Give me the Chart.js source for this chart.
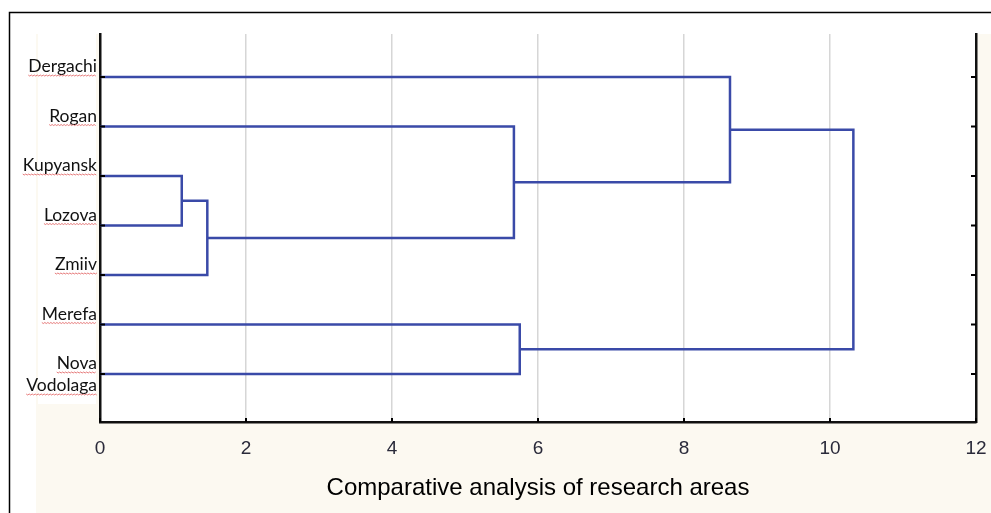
<!DOCTYPE html>
<html>
<head>
<meta charset="utf-8">
<script src="https://cdn.jsdelivr.net/npm/chart.js@4.4.1/dist/chart.umd.min.js"></script>
<style>
  html, body { margin: 0; padding: 0; background: #fff; }
  #wrap { width: 991px; height: 513px; position: relative; }
</style>
</head>
<body>
<div id="wrap"><canvas id="dendro"></canvas></div>
<script>
// leaves, top to bottom
var leaves = ['Dergachi', 'Rogan', 'Kupyansk', 'Lozova', 'Zmiiv', 'Merefa', ['Nova', 'Vodolaga']];
// merges: children are leaf index (n) or earlier merge ('m' + index)
var mergeLeft   = [2,   'm0', 1,    0,    5,    'm3'];
var mergeRight  = [3,   4,    'm1', 'm2', 6,    'm4'];
var mergeHeight = [1.12, 1.47, 5.67, 8.63, 5.75, 10.32];
var xTicks = [0, 2, 4, 6, 8, 10, 12];

var lineColor = '#3a4aa8';

// build segments for each merge
var nodeY = [], nodeH = [];
function childPos(c) {
    if (typeof c === 'string') {
        var k = parseInt(c.slice(1));
        return { y: nodeY[k], h: nodeH[k] };
    }
    return { y: c, h: 0 };
}
var datasets = [];
for (var i = 0; i < mergeHeight.length; i++) {
    var a = childPos(mergeLeft[i]), b = childPos(mergeRight[i]);
    var h = mergeHeight[i];
    nodeY[i] = (a.y + b.y) / 2;
    nodeH[i] = h;
    datasets.push({
        data: [{x: a.h, y: a.y}, {x: h, y: a.y}, {x: h, y: b.y}, {x: b.h, y: b.y}],
        showLine: true,
        borderColor: lineColor,
        borderWidth: 2.5,
        pointRadius: 0,
        fill: false
    });
}

var bgPlugin = {
    id: 'bg',
    beforeDraw: function(chart) {
        var ctx = chart.ctx, a = chart.chartArea;
        ctx.save();
        ctx.fillStyle = '#ffffff';
        ctx.fillRect(0, 0, chart.width, chart.height);
        ctx.fillStyle = '#fcf9f1';
        ctx.fillRect(36, 34, chart.width - 36, chart.height - 34);
        ctx.fillStyle = '#ffffff';
        ctx.fillRect(38, 12, 58, 392);
        ctx.fillRect(a.left, a.top, a.right - a.left, a.bottom - a.top);
        ctx.restore();
    },
    afterDraw: function(chart) {
        var ctx = chart.ctx, a = chart.chartArea;
        var ys = chart.scales.y, xs = chart.scales.x;
        ctx.save();
        // outer frame
        ctx.strokeStyle = '#000';
        ctx.lineWidth = 1.5;
        ctx.beginPath();
        ctx.moveTo(9.5, chart.height);
        ctx.lineTo(9.5, 12.5);
        ctx.lineTo(chart.width, 12.5);
        ctx.stroke();
        // inward ticks
        ctx.lineWidth = 2;
        ctx.beginPath();
        leaves.forEach(function(l, i) {
            var py = ys.getPixelForValue(i);
            ctx.moveTo(a.left, py); ctx.lineTo(a.left + 5, py);
            ctx.moveTo(a.right - 5, py); ctx.lineTo(a.right, py);
        });
        xTicks.forEach(function(t) {
            var px = xs.getPixelForValue(t);
            ctx.moveTo(px, a.bottom); ctx.lineTo(px, a.bottom - 4);
        });
        ctx.stroke();
        // leaf labels with spell-check underline
        ctx.font = '17.5px Lato';
        ctx.textAlign = 'right';
        ctx.textBaseline = 'alphabetic';
        leaves.forEach(function(l, i) {
            var lines = Array.isArray(l) ? l : [l];
            var py = ys.getPixelForValue(i);
            lines.forEach(function(s, j) {
                var by = py - 5 + j * 22;
                var xr = a.left - 3;
                ctx.fillStyle = '#111';
                ctx.fillText(s, xr, by);
                var w = ctx.measureText(s).width;
                ctx.strokeStyle = '#e05a5a';
                ctx.lineWidth = 0.8;
                ctx.beginPath();
                for (var x = xr - w, k = 0; x <= xr; x += 1.5, k++) {
                    var yy = by + 3 + (k % 2 ? 1 : 0);
                    if (k === 0) ctx.moveTo(x, yy); else ctx.lineTo(x, yy);
                }
                ctx.stroke();
            });
        });
        ctx.restore();
    }
};

var chart = new Chart(document.getElementById('dendro'), {
    type: 'scatter',
    data: { datasets: datasets },
    options: {
        responsive: true,
        maintainAspectRatio: false,
        animation: false,
        layout: { padding: { top: 34, left: 0, right: 0, bottom: 0 } },
        plugins: { legend: { display: false }, tooltip: { enabled: false } },
        scales: {
            x: {
                type: 'linear',
                min: 0, max: 12,
                afterBuildTicks: function(s) { s.ticks = xTicks.map(function(v) { return {value: v}; }); },
                afterFit: function(s) { s.height = 91; s.paddingLeft = 0; s.paddingRight = 0; },
                grid: { color: '#d6d6d6', lineWidth: 1.5, drawTicks: false },
                border: { color: '#111', width: 2.5 },
                ticks: {
                    padding: 15,
                    color: '#2a2a3a',
                    font: { family: 'Liberation Sans Narrow, Liberation Sans', size: 19 }
                },
                title: {
                    display: true,
                    text: 'Comparative analysis of research areas',
                    color: '#000',
                    font: { family: 'Liberation Sans', size: 24 },
                    padding: { top: 0, bottom: 10 }
                }
            },
            y: {
                type: 'linear',
                reverse: true,
                min: -0.87, max: 6.97,
                afterFit: function(s) { s.width = 100; },
                grid: { display: false },
                border: { color: '#111', width: 2.5 },
                ticks: { display: false }
            },
            y2: {
                type: 'linear',
                position: 'right',
                reverse: true,
                min: -0.87, max: 6.97,
                afterFit: function(s) { s.width = 15; },
                grid: { display: false },
                border: { color: '#111', width: 2.5 },
                ticks: { display: false }
            }
        }
    },
    plugins: [bgPlugin]
});
</script>
</body>
</html>
